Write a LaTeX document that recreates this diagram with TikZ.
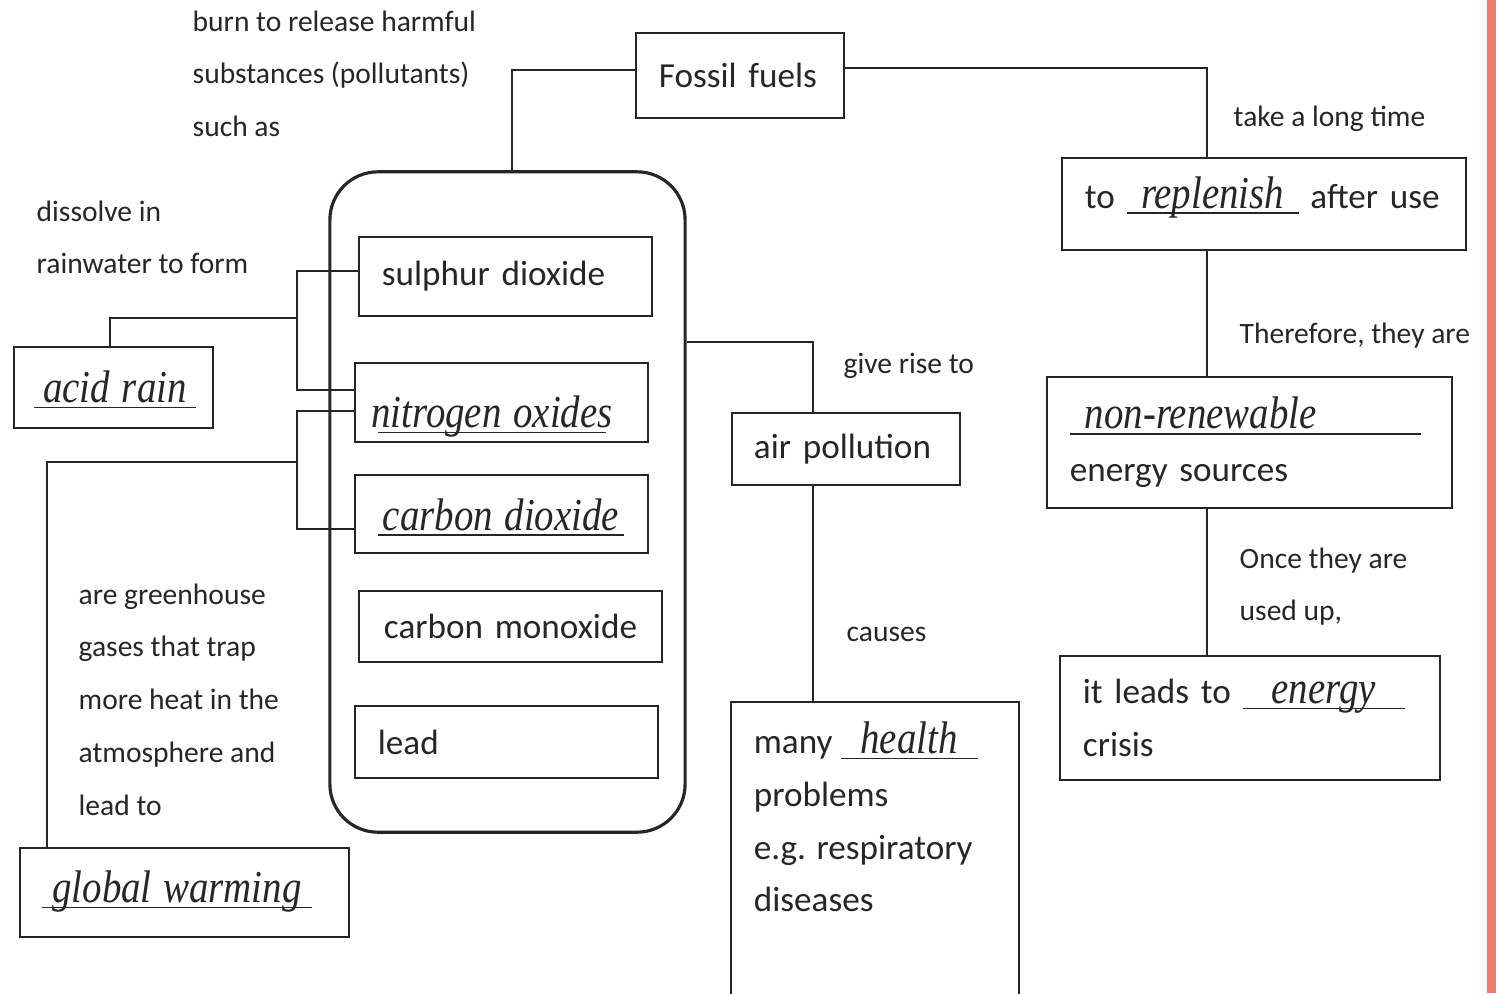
\documentclass[tikz,border=0pt]{standalone}
\usepackage{fontspec}
\setmainfont{Carlito}
\newfontfamily\hand{Liberation Serif}[FakeStretch=0.85]
\usepackage{xcolor}
\usetikzlibrary{positioning}
\definecolor{ink}{gray}{0.15}
\definecolor{margin}{RGB}{236,124,108}
\newcommand{\handfont}{\hand\itshape\fontsize{13}{15}\selectfont}
\newcommand{\fillin}[3][c]{\underline{\raisebox{0pt}[\height][0pt]{\makebox[#2][#1]{\handfont #3}}}}

\begin{document}
\begin{tikzpicture}[x=0.01cm,y=-0.01cm,
    box/.style={draw=ink,line width=0.5pt,rectangle,inner xsep=2.3mm,inner ysep=0pt,align=left,text=ink,font=\fontsize{10}{15}\selectfont},
    note/.style={anchor=north west,inner sep=0pt,align=left,text=ink,font=\fontsize{8.4}{15}\selectfont},
    link/.style={draw=ink,line width=0.45pt}]
    \useasboundingbox (0,0) rectangle (1496,993);
    \fill[margin] (1487,0) rectangle (1496,993);

    % Fossil fuels and the pollutant group
    \node[box,text width=1.62cm,minimum height=0.85cm] (fossil) at (740,75.5) {Fossil fuels};
    \node[draw=ink,line width=0.9pt,rounded corners=4.8mm,minimum width=3.55cm,minimum height=6.6cm,inner sep=0pt] (pollutants) at (507.5,502) {};
    \node[box,text width=2.47cm,minimum height=0.79cm] (sulphur) at (505.5,276.5) {sulphur dioxide};
    \node[box,text width=2.47cm,minimum height=0.79cm,text height=0.5cm,text depth=0cm] (nitrogen) at (501.5,402.5) {\fillin{2.28cm}{nitrogen oxides}};
    \node[box,text width=2.47cm,minimum height=0.78cm,text height=0.32cm,text depth=0cm] (carbon) at (501.5,514) {\fillin{2.46cm}{carbon dioxide}};
    \node[box,text width=2.53cm,inner xsep=2.5mm,minimum height=0.71cm] (monoxide) at (510.5,626.5) {carbon monoxide};
    \node[box,text width=2.57cm,minimum height=0.72cm] (lead) at (506.5,742) {lead};

    % Left side
    \node[box,text width=1.59cm,inner xsep=2mm,minimum height=0.81cm,text height=0.3cm,text depth=0cm] (acid) at (113.5,387.5) {\fillin{1.62cm}{acid rain}};
    \node[box,text width=2.85cm,inner xsep=2.2mm,minimum height=0.89cm,text height=0.2cm,text depth=0cm] (warming) at (184.5,892.5) {\fillin{2.70cm}{global warming}};

    % Right side
    \node[box,text width=3.58cm,minimum height=0.92cm,text height=0.2cm,text depth=0.12cm] (replenish) at (1264,204) {to \fillin{1.72cm}{replenish} after use};
    \node[box,text width=3.59cm,minimum height=1.31cm] (nonrenew) at (1249.5,442.5) {\fillin[l]{3.51cm}{\hspace{1.5mm}non-renewable}\\energy sources};
    \node[box,text width=3.34cm,minimum height=1.24cm] (energy) at (1250,718) {it leads to \fillin{1.62cm}{energy}\\crisis};

    % Middle
    \node[box,text width=1.84cm,inner xsep=2.2mm,minimum height=0.72cm] (airpol) at (846,449) {air pollution};
    \node[draw=ink,line width=0.5pt,minimum width=2.88cm,minimum height=3.28cm,inner sep=0pt] (health) at (875,866) {};
    \node[box,draw=none,anchor=north west,inner sep=0pt] (healthtext) at (753,721) {many \fillin{1.37cm}{health}\\problems\\e.g. respiratory\\diseases};

    % Notes
    \node[note] (burnnote) at (192,10) {burn to release harmful\\substances (pollutants)\\such as};
    \node[note] (dissolvenote) at (36,200) {dissolve in\\rainwater to form};
    \node[note] (greennote) at (78,583) {are greenhouse\\gases that trap\\more heat in the\\atmosphere and\\lead to};
    \node[note] (risenote) at (843,352) {give rise to};
    \node[note] (causenote) at (846,626) {causes};
    \node[note] (longnote) at (1233,105) {take a long time};
    \node[note] (thereforenote) at (1239,322) {Therefore, they are};
    \node[note] (oncenote) at (1239,547) {Once they are\\used up,};

    % Connectors
    \coordinate (fuelbend) at (1207,68);
    \coordinate (risebend) at (813,342);
    \coordinate (acidbend) at (297,318);
    \coordinate (warmbend) at (297,462);
    \draw[link] ([yshift=0.55mm]fossil.west) -| ([xshift=0.45mm]pollutants.north);
    \draw[link] ([yshift=0.75mm]fossil.east) -| (replenish.north -| fuelbend);
    \draw[link] (replenish.south -| fuelbend) -- (nonrenew.north -| fuelbend);
    \draw[link] (nonrenew.south -| fuelbend) -- (energy.north -| fuelbend);
    \draw[link] (pollutants.east |- risebend) -| (airpol.north -| risebend);
    \draw[link] (airpol.south -| risebend) -- (health.north -| risebend);
    \draw[link] ([yshift=0.55mm]sulphur.west) -| (acidbend) |- ([yshift=1.25mm]nitrogen.west);
    \draw[link] (acidbend) -| ([xshift=-0.35mm]acid.north);
    \draw[link] ([yshift=-0.85mm]nitrogen.west) -| (warmbend) |- ([yshift=-1.5mm]carbon.west);
    \draw[link] (warmbend) -| ([xshift=2.8mm]warming.north west);
\end{tikzpicture}
\end{document}
